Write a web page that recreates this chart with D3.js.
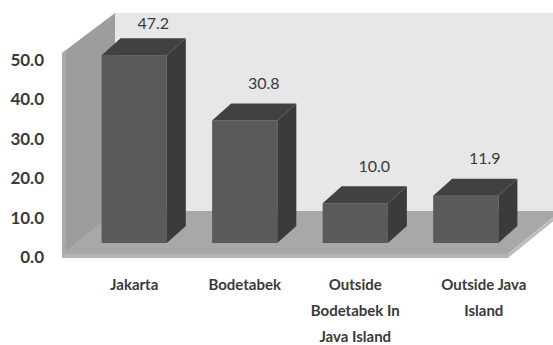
<!DOCTYPE html>
<html>
<head>
<meta charset="utf-8">
<script src="https://cdn.jsdelivr.net/npm/d3@7"></script>
<style>
  html, body { margin: 0; padding: 0; background: #fff; }
  svg { display: block; }
  text { font-family: Lato, "Open Sans", sans-serif; fill: #3a3a3a; }
</style>
</head>
<body>
<script>
// Data
const categories = ["Jakarta", "Bodetabek", "Outside Bodetabek in Java Island", "Outside Java Island"];
const categoryLines = [["Jakarta"], ["Bodetabek"], ["Outside", "Bodetabek In", "Java Island"], ["Outside Java", "Island"]];
const values = [47.2, 30.8, 10.0, 11.9];
const tickValues = [0, 10, 20, 30, 40, 50];

const W = 553, H = 345;
const svg = d3.select("body").append("svg").attr("width", W).attr("height", H);

// 3D box geometry
const floorY = 258, left = 62, right = 508;
const depth = { x: 53, y: -45 };
const barShift = { x: 17.5, y: -15 };   // bars sit a third of the way into the floor
const barDepth = { x: 19, y: -17 };

// Scales
const yFront = d3.scaleLinear().domain([0, 50]).range([floorY, 53]);
const yBack = d3.scaleLinear().domain([0, 50]).range([floorY + depth.y, 13]);
const yLabel = d3.scaleLinear().domain([0, 50]).range([257, 60]);
const yBar = d3.scaleLinear().domain([0, 50]).range([floorY + barShift.y, floorY + barShift.y - 199]);
const x = d3.scaleBand().domain(categories).range([left, 503]).paddingInner(0.41).paddingOuter(0.2);

const poly = pts => pts.map(p => p.join(",")).join(" ");

// Back wall (extends past the right edge)
svg.append("polygon")
  .attr("points", poly([[left + depth.x, yBack(50)], [right + depth.x + 10, yBack(50)], [right + depth.x + 10, yBack(0)], [left + depth.x, yBack(0)]]))
  .attr("fill", "#e7e7e7");

// Side wall
svg.append("polygon")
  .attr("points", poly([[left, yFront(0)], [left, yFront(50)], [left + depth.x, yBack(50)], [left + depth.x, yBack(0)]]))
  .attr("fill", "#9d9d9d");
svg.append("polygon")
  .attr("points", poly([[left, yFront(0)], [left, yFront(50)], [left + 4, yFront(50) - 3], [left + 4, yFront(0) - 3]]))
  .attr("fill", "#a9a9a9");

// Floor
svg.append("polygon")
  .attr("points", poly([[left, floorY - 4], [right, floorY - 4], [right + depth.x, floorY + depth.y - 2], [left + depth.x, floorY + depth.y - 2]]))
  .attr("fill", "#a8a8a8");
svg.append("polygon")
  .attr("points", poly([[left, floorY - 4], [right, floorY - 4], [right, floorY], [left, floorY]]))
  .attr("fill", "#b4b4b4");
svg.append("polygon")
  .attr("points", poly([[right, floorY - 4], [right + depth.x, floorY + depth.y - 2], [right + depth.x, floorY + depth.y + 2], [right, floorY]]))
  .attr("fill", "#bdbdbd");

// Bars
const bw = x.bandwidth();
const bars = svg.append("g").selectAll("g").data(values).join("g");
bars.each(function (v, i) {
  const g = d3.select(this);
  const x0 = x(categories[i]) + barShift.x, x1 = x0 + bw;
  const yt = yBar(v), yb = yBar(0);
  g.append("rect").attr("x", x0).attr("y", yt).attr("width", bw).attr("height", yb - yt).attr("fill", "#5a5a5a");
  g.append("polygon")
    .attr("points", poly([[x1, yt], [x1 + barDepth.x, yt + barDepth.y], [x1 + barDepth.x, yb + barDepth.y], [x1, yb]]))
    .attr("fill", "#3b3b3b");
  g.append("polygon")
    .attr("points", poly([[x0, yt], [x1, yt], [x1 + barDepth.x, yt + barDepth.y], [x0 + barDepth.x, yt + barDepth.y]]))
    .attr("fill", "#414141");
});

// Value labels above the bars
svg.append("g").selectAll("text").data(values).join("text")
  .attr("x", (v, i) => x(categories[i]) + barShift.x + bw / 2 + barDepth.x)
  .attr("y", v => Math.max(yBar(v) + barDepth.y - 20, 23) + 5.5)
  .attr("text-anchor", "middle")
  .attr("font-size", 16)
  .attr("fill", "#333")
  .text(v => v.toFixed(1));

// Value axis labels
const axis = d3.axisLeft(yLabel).tickValues(tickValues).tickFormat(d3.format(".1f")).tickSize(0).tickPadding(0);
const ag = svg.append("g").attr("transform", "translate(44,0)").call(axis);
ag.select(".domain").remove();
ag.selectAll("text").attr("font-size", 17).attr("font-weight", "bold")
  .style("font-family", "Lato, sans-serif").attr("fill", "#3a3a3a");

// Category labels along the front edge
const labelNudge = [0, 0, 0, 18];
const cg = svg.append("g").selectAll("text").data(categoryLines).join("text")
  .attr("text-anchor", "middle")
  .attr("font-size", 15)
  .attr("font-weight", "bold");
cg.each(function (lines, i) {
  const cx = x(categories[i]) + barShift.x + bw / 2 + labelNudge[i];
  d3.select(this).selectAll("tspan").data(lines).join("tspan")
    .attr("x", cx)
    .attr("y", (d, j) => 290 + j * 26)
    .text(d => d);
});
</script>
</body>
</html>
